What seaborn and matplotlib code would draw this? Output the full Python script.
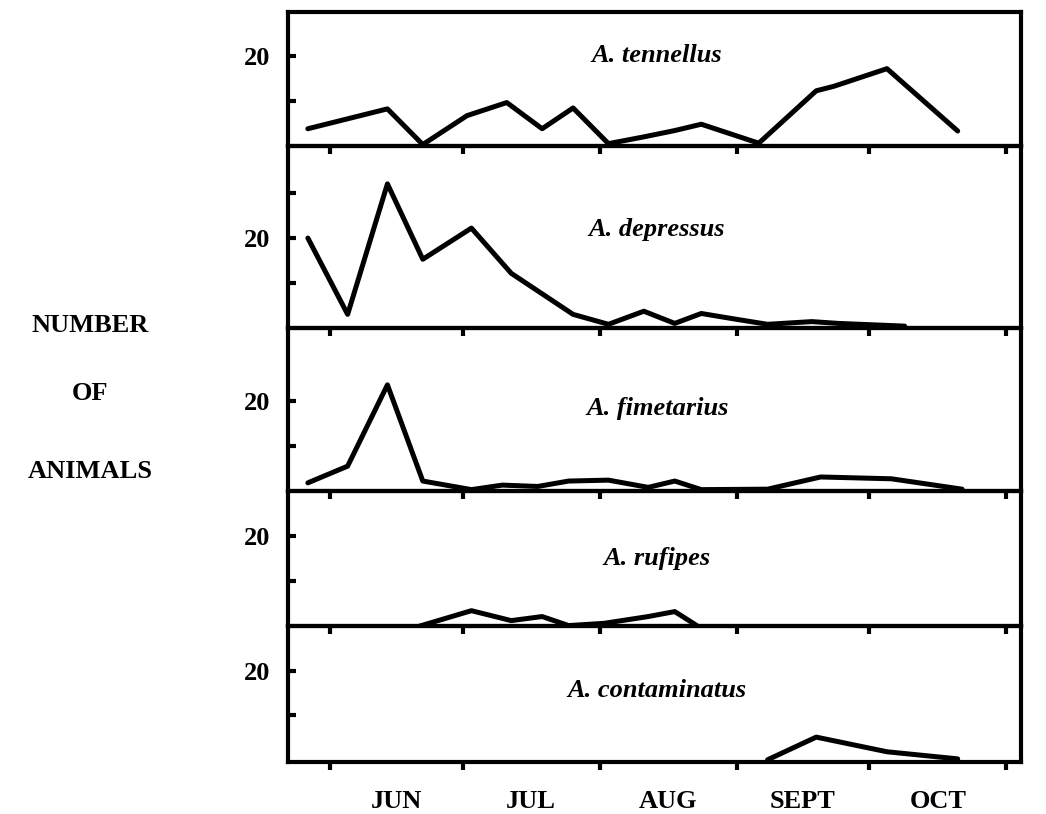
"""Seasonal counts of five Aphodius species, stacked panels sharing one time axis."""

import matplotlib
matplotlib.use("Agg")
import matplotlib.pyplot as plt
import matplotlib.ticker as ticker
import numpy as np
import pandas as pd
import seaborn as sns

# x values are days counted from 1 June
species = ["A. tennellus", "A. depressus", "A. fimetarius", "A. rufipes", "A. contaminatus"]

tennellus_day = [-5, 4, 13, 21, 31, 40, 48, 55, 63, 71, 78, 84, 97, 110, 114, 126, 142]
tennellus_n = [3.8, 6.0, 8.2, 0.3, 6.7, 9.6, 3.8, 8.4, 0.5, 2.0, 3.4, 4.8, 0.6, 12.2, 13.2, 17.1, 3.3]

depressus_day = [-5, 4, 13, 21, 32, 41, 55, 63, 71, 78, 84, 92, 99, 109, 115, 130]
depressus_n = [20.0, 3.1, 32.0, 15.3, 22.2, 12.2, 3.1, 0.9, 3.8, 1.1, 3.3, 2.0, 0.9, 1.5, 1.1, 0.5]

fimetarius_day = [-5, 4, 13, 21, 32, 39, 47, 54, 63, 72, 78, 84, 99, 111, 127, 143]
fimetarius_n = [1.8, 5.5, 23.5, 2.2, 0.3, 1.3, 1.0, 2.2, 2.4, 0.8, 2.2, 0.3, 0.4, 3.1, 2.7, 0.4]

rufipes_day = [20, 32, 41, 48, 54, 62, 72, 78, 83]
rufipes_n = [0.0, 3.5, 1.3, 2.2, 0.2, 0.7, 2.2, 3.3, 0.2]

contaminatus_day = [99, 110, 126, 142]
contaminatus_n = [0.0, 5.1, 1.8, 0.2]

panel_top = [29.6, 40.4, 36.0, 30.0, 30.0]
label_y = [20.0, 22.0, 18.2, 15.0, 15.5]

month_starts = [0, 30, 61, 92, 122, 153]
month_mid = [15, 45.5, 76.5, 107, 137.5]
month_names = ["JUN", "JUL", "AUG", "SEPT", "OCT"]

series = [(tennellus_day, tennellus_n), (depressus_day, depressus_n),
          (fimetarius_day, fimetarius_n), (rufipes_day, rufipes_n),
          (contaminatus_day, contaminatus_n)]

sns.set_style("ticks")
plt.rcParams["font.family"] = ["Liberation Serif", "DejaVu Serif"]
plt.rcParams.update({"axes.linewidth": 3, "axes.edgecolor": "black",
                     "text.color": "black", "xtick.color": "black",
                     "ytick.color": "black", "xtick.labelcolor": "black",
                     "ytick.labelcolor": "black"})

fig, axes = plt.subplots(5, 1, figsize=(10.46, 8.14), dpi=100, sharex=True,
                         gridspec_kw={"height_ratios": panel_top, "hspace": 0})
fig.subplots_adjust(left=0.2753, right=0.976, top=0.985, bottom=0.0639)

for i, ax in enumerate(axes):
    day, n = series[i]
    df = pd.DataFrame({"day": day, "n": n})
    sns.lineplot(data=df, x="day", y="n", ax=ax, color="black", lw=3.6, sort=False)
    ax.set_facecolor("none")
    ax.set_xlim(-9.5, 156.3)
    ax.set_ylim(-0.5 if i == 4 else 0, panel_top[i])
    ax.set_xlabel("")
    ax.set_ylabel("")
    for s in ax.spines.values():
        s.set_visible(True)
        s.set_linewidth(3)
        s.set_edgecolor("black")

    ax.yaxis.set_major_locator(ticker.FixedLocator([10, 20, 30] if i == 1 else [10, 20]))
    ax.yaxis.set_major_formatter(ticker.FuncFormatter(lambda v, p: "20" if v == 20 else ""))
    ax.tick_params(axis="y", direction="in", length=6, width=3, labelsize=19, pad=13)
    for lab in ax.get_yticklabels():
        lab.set_fontweight("bold")

    ax.xaxis.set_major_locator(ticker.FixedLocator(month_starts))
    ax.xaxis.set_major_formatter(ticker.NullFormatter())
    ax.xaxis.set_minor_locator(ticker.FixedLocator(month_mid))
    ax.tick_params(axis="x", which="major", direction="out", length=6, width=3)
    ax.tick_params(axis="x", which="minor", length=0, labelsize=19, pad=20)

    ax.text(74, label_y[i], species[i], ha="center", va="center",
            fontsize=19, fontweight="bold", fontstyle="italic")

axes[-1].xaxis.set_minor_formatter(ticker.FixedFormatter(month_names))
for lab in axes[-1].get_xticklabels(minor=True):
    lab.set_fontweight("bold")

for txt, yy in zip(["NUMBER", "OF", "ANIMALS"], [325, 393, 472]):
    fig.text(90 / 1046, 1 - yy / 814, txt, ha="center", va="center",
             fontsize=19, fontweight="bold")

plt.savefig("out.png", dpi=100)
plt.close(fig)
